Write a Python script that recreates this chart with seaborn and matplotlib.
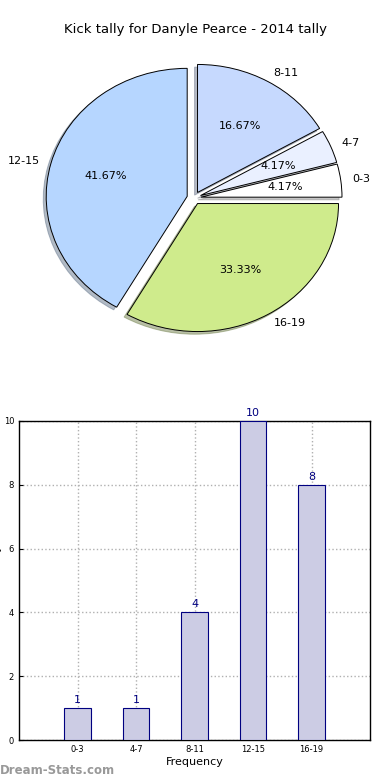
import matplotlib
matplotlib.use("Agg")
import matplotlib.pyplot as plt
import seaborn as sns
import pandas as pd

categories = ["0-3", "4-7", "8-11", "12-15", "16-19"]
counts = [1, 1, 4, 10, 8]
pie_colors = ["#ffffff", "#eaf0ff", "#c6d9fe", "#b6d6ff", "#cfeb8c"]
title = "Kick tally for Danyle Pearce - 2014 tally"
xlabel = "Frequency"
ylabel = "Kick Tally"
yticks = [0, 2, 4, 6, 8, 10]

sns.set_style("white")
plt.rcParams["font.family"] = ["DejaVu Sans"]
plt.rcParams["text.color"] = "black"
plt.rcParams["axes.labelcolor"] = "black"
plt.rcParams["xtick.color"] = "black"
plt.rcParams["ytick.color"] = "black"

fig = plt.figure(figsize=(3.9, 7.8), dpi=100)

# ---- Pie chart ----
W, H = 390.0, 780.0
cx, cy = 194.0, 198.0
rx, ry = 141.0, 128.0
lim = 1.25
axp = fig.add_axes([(cx - lim * rx) / W, (H - cy - lim * ry) / H,
                    2 * lim * rx / W, 2 * lim * ry / H])
wedges, texts, autotexts = axp.pie(
    counts, labels=categories, colors=pie_colors, explode=[0.05] * len(counts),
    autopct=lambda p: f"{p:.2f}%",
    shadow={"ox": -0.015, "oy": -0.015, "shade": 0.45},
    startangle=0, labeldistance=1.08,
    wedgeprops=dict(edgecolor="black", linewidth=0.7),
    textprops=dict(fontsize=8, color="black"))
axp.set_aspect("auto")
axp.set_xlim(-lim, lim)
axp.set_ylim(-lim, lim)
fig.text(0.5, 1 - 30 / H, title, ha="center", va="center", fontsize=9.5, color="black")

# ---- Bar chart ----
axb = fig.add_axes([19 / W, 40 / H, 351 / W, 319 / H])
df = pd.DataFrame({"cat": categories, "val": counts})
sns.barplot(data=df, x="cat", y="val", ax=axb, color="#ccccE4", width=0.45,
            edgecolor="#000080", linewidth=0.8, saturation=1, zorder=3)
axb.set_xlim(-1, 5)
axb.set_ylim(0, 10)
axb.set_yticks(yticks)
axb.set_xlabel(xlabel, fontsize=8, labelpad=2)
axb.set_ylabel(ylabel, fontsize=8)
axb.yaxis.set_label_coords(-0.048, 0.53)
axb.tick_params(axis="both", labelsize=6, direction="in", length=3, left=True, bottom=True)
axb.grid(True, linestyle=":", color="#b0b0b0", linewidth=1, zorder=0)
axb.set_axisbelow(True)
for s in axb.spines.values():
    s.set_visible(True)
    s.set_color("black")
    s.set_linewidth(1)
for i, v in enumerate(counts):
    axb.text(i, v + 0.1, str(v), ha="center", va="bottom", color="#000080", fontsize=8)

fig.text(0.0, 1 - 770 / H, "Dream-Stats.com", ha="left", va="center",
         fontsize=8.5, color="#999999", fontweight="bold")

fig.savefig("out.png", dpi=100)
